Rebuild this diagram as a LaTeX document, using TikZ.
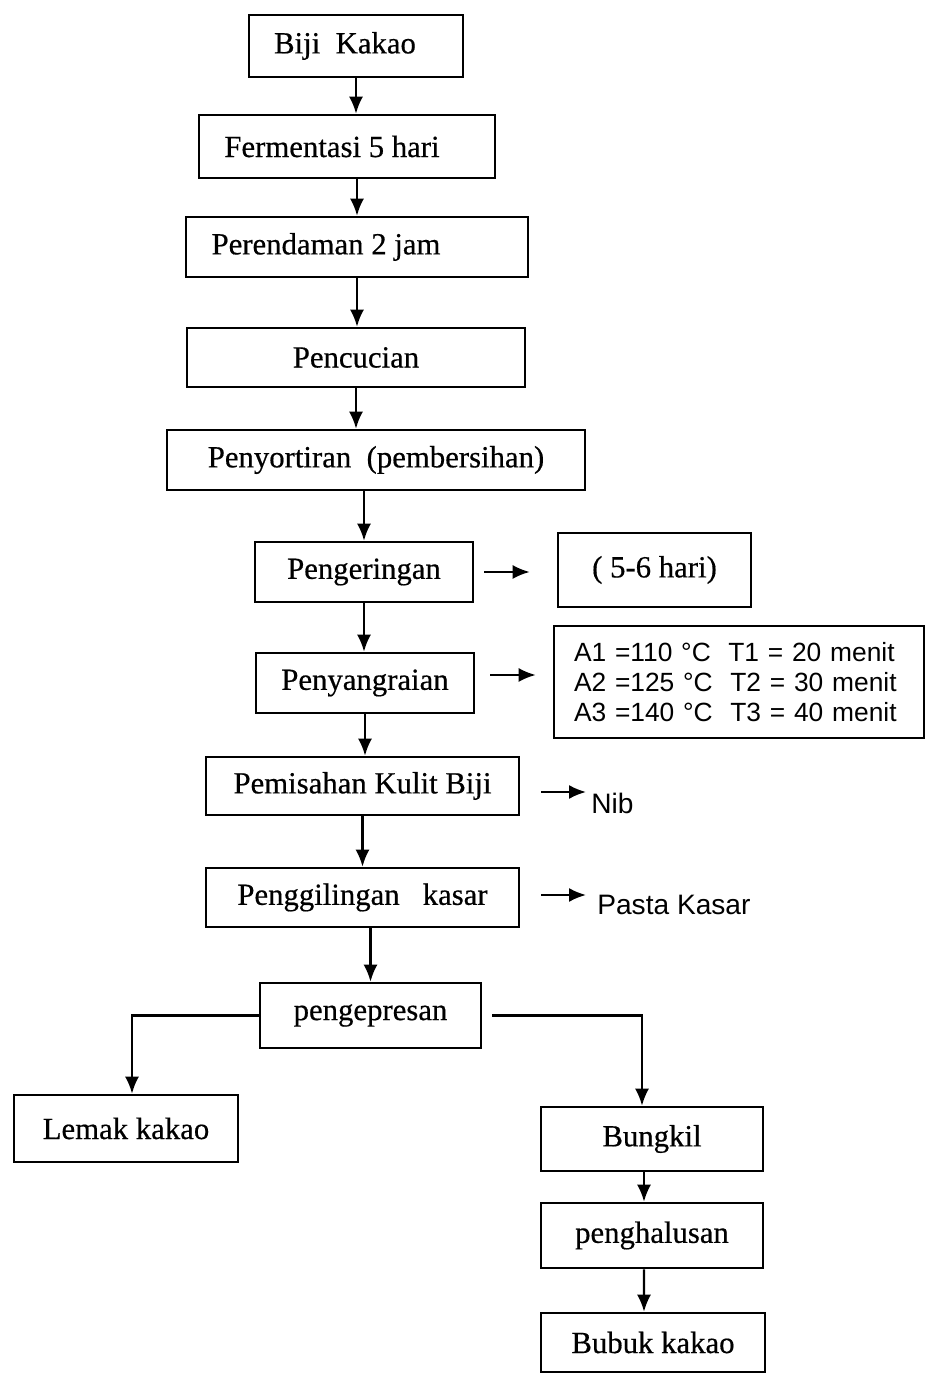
\documentclass[tikz,border=0pt]{standalone}
\usepackage{fontspec}
\setmainfont[FakeBold=0.5]{Liberation Serif}
\setsansfont{Liberation Sans}
\usetikzlibrary{arrows.meta}
\begin{document}
\begin{tikzpicture}[
		box/.style={draw, line width=1.5pt, inner sep=0, font=\fontsize{17.5}{20}\selectfont},
		note/.style={inner sep=0, anchor=north west, font=\sffamily\fontsize{16}{19}\selectfont},
		arr/.style={line width=1.2pt, -{Latex[length=3.4mm, width=2.8mm]}}
	]
		\useasboundingbox (0, 0) rectangle (18.5, 27.48);
		\node[box, minimum width=4.28cm, minimum height=1.24cm] (biji) at (7.12, 26.56) {Biji\ \ Kakao\hspace*{0.44cm}};
		\node[box, minimum width=5.92cm, minimum height=1.26cm] (ferment) at (6.94, 24.55) {Fermentasi 5 hari\hspace*{0.6cm}};
		\node[box, minimum width=6.84cm, minimum height=1.2cm] (rendam) at (7.14, 22.54) {Perendaman 2 jam\hspace*{1.24cm}};
		\node[box, minimum width=6.76cm, minimum height=1.18cm] (cuci) at (7.12, 20.33) {Pencucian};
		\node[box, minimum width=8.36cm, minimum height=1.2cm] (sortir) at (7.52, 18.28) {Penyortiran\ \ (pembersihan)};
		\node[box, minimum width=4.36cm, minimum height=1.2cm] (kering) at (7.28, 16.04) {Pengeringan};
		\node[box, minimum width=3.86cm, minimum height=1.48cm] (hari) at (13.09, 16.08) {( 5-6 hari)};
		\node[box, minimum width=4.36cm, minimum height=1.2cm] (sangrai) at (7.30, 13.82) {Penyangraian};
		\node[box, minimum width=7.40cm, minimum height=2.24cm, text width=6.6cm, align=left, font=\sffamily\fontsize{15}{17}\selectfont] (suhu) at (14.78, 13.84) {A1 =110 °C\ \ T1 = 20 menit\\A2 =125 °C\ \ T2 = 30 menit\\A3 =140 °C\ \ T3 = 40 menit};
		\node[box, minimum width=6.26cm, minimum height=1.16cm] (pisah) at (7.25, 11.76) {Pemisahan Kulit Biji};
		\node[box, minimum width=6.26cm, minimum height=1.18cm] (giling) at (7.25, 9.53) {Penggilingan\ \ \ kasar};
		\node[box, minimum width=4.42cm, minimum height=1.30cm] (press) at (7.41, 7.17) {pengepresan};
		\node[box, minimum width=4.48cm, minimum height=1.34cm] (lemak) at (2.52, 4.91) {Lemak kakao};
		\node[box, minimum width=4.44cm, minimum height=1.28cm] (bungkil) at (13.04, 4.70) {Bungkil};
		\node[box, minimum width=4.44cm, minimum height=1.30cm] (halus) at (13.04, 2.77) {penghalusan};
		\node[box, minimum width=4.48cm, minimum height=1.18cm] (bubuk) at (13.06, 0.63) {Bubuk kakao};
		\node[note] (nib) at (11.82, 11.62) {Nib};
		\node[note] (pasta) at (11.94, 9.58) {Pasta Kasar};
		\coordinate (nibtip) at (11.72, 11.64);
		\coordinate (pastatip) at (11.72, 9.58);
		\draw[arr] (biji.south) -- (biji.south |- ferment.north);
		\draw[arr] (ferment.south -| rendam) -- (rendam.north);
		\draw[arr] (rendam.south) -- (rendam.south |- cuci.north);
		\draw[arr] (cuci.south) -- (cuci.south |- sortir.north);
		\draw[arr] (sortir.south -| kering) -- (kering.north);
		\draw[arr] (kering.south) -- (kering.south |- sangrai.north);
		\draw[arr] (sangrai.south) -- (sangrai.south |- pisah.north);
		\draw[arr] (pisah.south) -- (pisah.south |- giling.north);
		\draw[arr] (giling.south -| press) -- (press.north);
		\draw[arr, shorten <=0.2cm, shorten >=0.54cm] (kering.east) -- (kering.east -| hari.west);
		\draw[arr, shorten <=0.3cm, shorten >=0.34cm] ([yshift=0.16cm]sangrai.east) -- ([yshift=0.16cm]sangrai.east -| suhu.west);
		\draw[arr, shorten <=0.42cm] (pisah.east |- nibtip) -- (nibtip);
		\draw[arr, shorten <=0.42cm] (giling.east |- pastatip) -- (pastatip);
		\draw[arr] (press.west) -| ([xshift=0.12cm]lemak.north);
		\draw[arr] ([xshift=0.2cm]press.east) -| ([xshift=-0.2cm]bungkil.north);
		\draw[arr] ([xshift=-0.16cm]bungkil.south) -- ([xshift=-0.16cm]halus.north);
		\draw[arr] ([xshift=-0.16cm]halus.south) -- ([xshift=-0.18cm]bubuk.north);
	\end{tikzpicture}
\end{document}
